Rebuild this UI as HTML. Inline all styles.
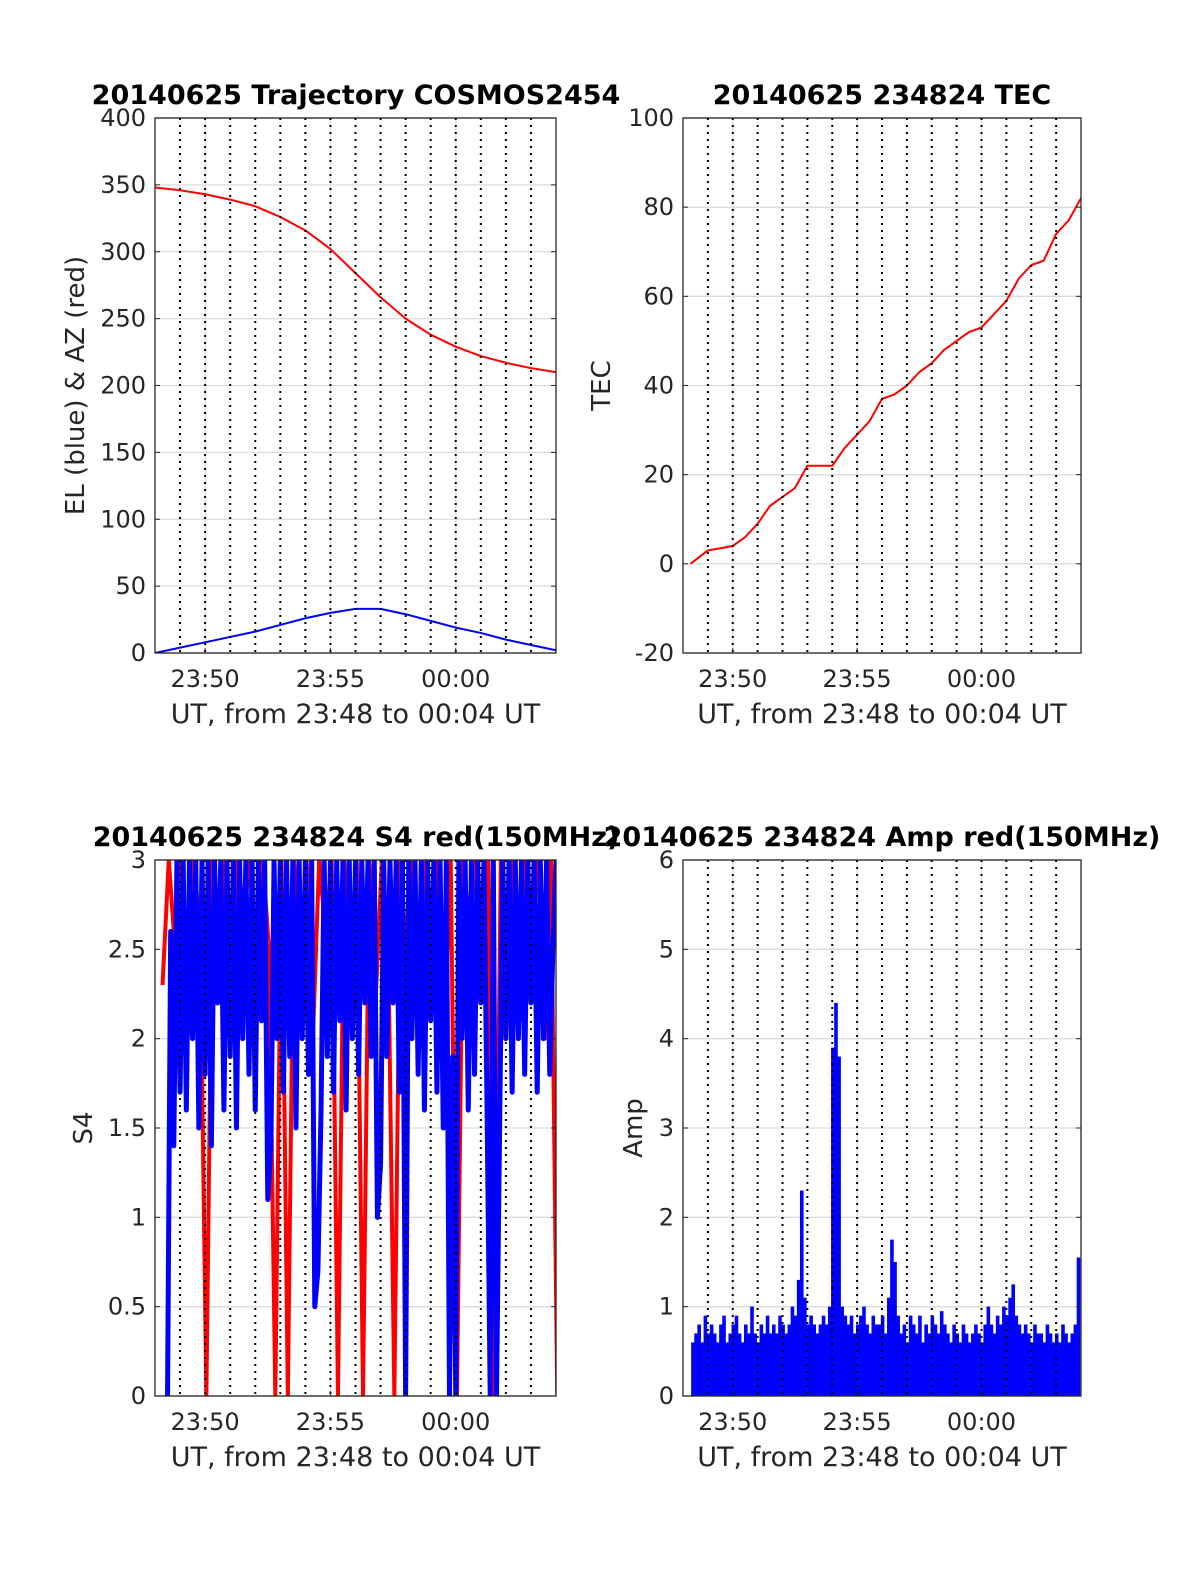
<!DOCTYPE html>
<html><head><meta charset="utf-8"><style>
html,body{margin:0;padding:0;background:#fff;}
svg{display:block;font-family:"DejaVu Sans","Liberation Sans",sans-serif;}
</style></head><body>
<svg id="fig" width="1200" height="1575" viewBox="0 0 1200 1575" xmlns="http://www.w3.org/2000/svg"></svg>
<script>
const trajT=[48,49,50,51,52,53,54,55,56,57,58,59,60,61,62,63,64];
const azVals=[348,346,343,339,334,326,316,302,284,266,250,238,229,222,217,213,210];
const elVals=[0,4,8,12,16,21,26,30,33,33,29,24,19,15,10,6,2];
const tecT=[48.3,49,50,50.5,51,51.5,52,52.5,53,53.5,54,54.5,55,55.5,56,56.5,57,57.5,58,58.5,59,59.5,60,60.5,61,61.5,62,62.5,63,63.5,64];
const tecVals=[0,3,4,6,9,13,15,17,22,22,22,26,29,32,37,38,40,43,45,48,50,52,53,56,59,64,67,68,74,77,82];
const s4BlueStart=48.5, s4BlueStep=0.125;
const s4Blue=[0,2.6,1.4,3,1.7,3,1.6,3,2.0,3, 1.5,3,1.8,3,1.4,3,2.2,3,1.6,3, 1.9,3,1.5,3,2.0,3,1.8,3,1.6,3,
 2.1,3,1.1,1.4,3,2.0,3,1.7,3,1.9, 3,1.5,3,2.0,3,1.8,3,0.5,0.7,1.6, 3,1.9,3,1.7,3,2.1,3,1.6,3,2.0,
 3,1.8,3,2.2,3,1.9,3,1.0,1.3,3, 1.9,3,2.2,3,1.7,3,0,3,2.0,3, 1.8,3,1.6,3,2.1,3,1.7,3,1.5,3,
 0,1.9,0,3,2.0,3,1.6,3,1.8,3, 2.2,3,1.6,0,3,0,1.5,3,2.0,3, 1.7,3,2.0,3,1.8,3,2.2,3,1.7,3, 2.0,3,1.8,2.5,3];
const s4RedStart=48.3, s4RedStep=0.25;
const s4Red=[2.3,3,2.5,3,2.0,3,2.6,0,3,2.4, 3,2.2,3,2.7,3,2.1,3,2.5,0,3, 0,3,2.4,3,2.0,3,2.6,3,0,3,
 2.5,3,0,3,2.2,3,2.6,0,3,2.4, 3,2.1,3,2.5,3,2.0,3,0,3,2.6, 3,2.3,3,0,3,2.4,3,2.1,3,2.6, 3,2.0,3,0];
const ampStart=48.4, ampStep=0.125;
const ampVals=[.6,.7,.8,.6,.9,.7,.8,
 .7,.6,.8,.9,.6,.7,.8,.9,.7,.6, .8,.7,1.0,.7,.6,.8,.7,.9,.7,.8, .7,.9,.8,.7,.8,1.0,.9,1.3,2.3,1.1,
 .8,.9,.8,.7,.8,.9,.8,1.0,3.9,4.4, 3.8,1.0,.9,.8,.9,.7,.8,.9,1.0,.8, .7,.9,.8,.8,.9,.7,1.1,1.75,1.5,.9,
 .7,.8,.6,.9,.8,.7,.9,.6,.8,.7, .9,.8,.7,.95,.8,.7,.6,.8,.7,.6, .8,.7,.6,.7,.8,.7,.6,.8,1.0,.8,
 .7,.9,.8,1.0,.9,1.1,1.25,.9,.8,.7, .8,.7,.6,.8,.7,.7,.6,.8,.7,.6, .7,.6,.8,.7,.6,.7,.8,1.55];
const xTickT=[50,55,60];
const xTickLabels=["23:50","23:55","00:00"];

const NS="http://www.w3.org/2000/svg";
const fig=document.getElementById('fig');
function mk(tag,attrs,parent){const e=document.createElementNS(NS,tag);for(const k in attrs)e.setAttribute(k,attrs[k]);(parent||fig).appendChild(e);return e;}

function panel(o){
  const g=mk('g',{});
  
  
  const sx=t=>o.x0+(t-48)/16*(o.x1-o.x0);
  const sy=v=>o.y1-(v-o.ymin)/(o.ymax-o.ymin)*(o.y1-o.y0);
  o.yticks.forEach(v=>{mk('line',{x1:o.x0,x2:o.x1,y1:sy(v),y2:sy(v),stroke:'#dcdcdc','stroke-width':1.3},g);});
  xTickT.forEach(t=>{mk('line',{x1:sx(t),x2:sx(t),y1:o.y0,y2:o.y1,stroke:'#dcdcdc','stroke-width':1.3},g);});
  const clip='c'+o.name;
  const cp=mk('clipPath',{id:clip},g);mk('rect',{x:o.x0,y:o.y0,width:o.x1-o.x0,height:o.y1-o.y0},cp);
  const data=mk('g',{'clip-path':'url(#'+clip+')'},g);
  o.draw(data,sx,sy);
  for(let m=49;m<=63;m++){const l=mk('line',{x1:sx(m),x2:sx(m),y1:o.y0,y2:o.y1,stroke:'#000','stroke-width':2,'stroke-dasharray':'2 5'},g);
    }
  const box=mk('rect',{x:o.x0,y:o.y0,width:o.x1-o.x0,height:o.y1-o.y0,fill:'none',stroke:'#262626','stroke-width':1.3},g);
  
  o.yticks.forEach((v,i)=>{
    mk('line',{x1:o.x0,x2:o.x0+5,y1:sy(v),y2:sy(v),stroke:'#262626'},g);
    mk('line',{x1:o.x1,x2:o.x1-5,y1:sy(v),y2:sy(v),stroke:'#262626'},g);
    const t=mk('text',{x:o.x0-9,y:sy(v)+8,'text-anchor':'end','font-size':24,fill:'#262626'},g);
    t.textContent=o.ylabels[i];
    
  });
  xTickT.forEach((tt,i)=>{
    mk('line',{x1:sx(tt),x2:sx(tt),y1:o.y1,y2:o.y1-5,stroke:'#262626'},g);
    const t=mk('text',{x:sx(tt),y:o.y1+34,'text-anchor':'middle','font-size':24,fill:'#262626'},g);
    t.textContent=xTickLabels[i];
    
  });
  const xl=mk('text',{x:(o.x0+o.x1)/2,y:o.y1+70,'text-anchor':'middle','font-size':27,fill:'#262626'},g);
  xl.textContent='UT, from 23:48 to 00:04 UT';
  
  const yl=mk('text',{x:0,y:0,'text-anchor':'middle','font-size':26,fill:'#262626',transform:`translate(${o.ylx},${(o.y0+o.y1)/2}) rotate(-90)`},g);
  yl.textContent=o.ylabel;
  
  const ti=mk('text',{x:o.tx,y:o.y0-14,'text-anchor':'middle','font-size':27,'font-weight':'bold',fill:'#000'},g);
  ti.textContent=o.title;
  
}
function poly(parent,ts,vs,sx,sy,color,w,name){
  const p=mk('polyline',{points:ts.map((t,i)=>sx(t)+','+sy(vs[i])).join(' '),fill:'none',stroke:color,'stroke-width':w,'stroke-linejoin':'round'},parent);
  
}
panel({name:'trajectory-panel',x0:155,x1:556,y0:118,y1:653,ymin:0,ymax:400,
  yticks:[0,50,100,150,200,250,300,350,400],ylabels:['0','50','100','150','200','250','300','350','400'],
  ylabel:'EL (blue) & AZ (red)',ylx:84,title:'20140625 Trajectory COSMOS2454',tx:356,
  draw:(g,sx,sy)=>{poly(g,trajT,azVals,sx,sy,'#f00',2,'azimuth-line');poly(g,trajT,elVals,sx,sy,'#00f',2,'elevation-line');}});
panel({name:'tec-panel',x0:683,x1:1081,y0:118,y1:653,ymin:-20,ymax:100,
  yticks:[-20,0,20,40,60,80,100],ylabels:['-20','0','20','40','60','80','100'],
  ylabel:'TEC',ylx:610,title:'20140625 234824 TEC',tx:882,
  draw:(g,sx,sy)=>{poly(g,tecT,tecVals,sx,sy,'#f00',2,'tec-line');}});
panel({name:'s4-panel',x0:155,x1:556,y0:860,y1:1396,ymin:0,ymax:3,
  yticks:[0,0.5,1,1.5,2,2.5,3],ylabels:['0','0.5','1','1.5','2','2.5','3'],
  ylabel:'S4',ylx:92,title:'20140625 234824 S4 red(150MHz)',tx:356,
  draw:(g,sx,sy)=>{
    poly(g,s4Red.map((v,i)=>s4RedStart+i*s4RedStep),s4Red.map(v=>Math.min(v,3.05)),sx,sy,'#f00',4,'s4-red-line');
    poly(g,s4Blue.map((v,i)=>s4BlueStart+i*s4BlueStep),s4Blue.map(v=>Math.min(v,3.05)),sx,sy,'#00f',5,'s4-blue-line');}});
panel({name:'amp-panel',x0:683,x1:1081,y0:860,y1:1396,ymin:0,ymax:6,
  yticks:[0,1,2,3,4,5,6],ylabels:['0','1','2','3','4','5','6'],
  ylabel:'Amp',ylx:642,title:'20140625 234824 Amp red(150MHz)',tx:882,
  draw:(g,sx,sy)=>{
    ampVals.forEach((v,i)=>{const t=ampStart+i*ampStep;
      const l=mk('line',{x1:sx(t),x2:sx(t),y1:sy(0),y2:sy(v),stroke:'#00f','stroke-width':3.6},g);
      });}});
</script>
</body></html>
